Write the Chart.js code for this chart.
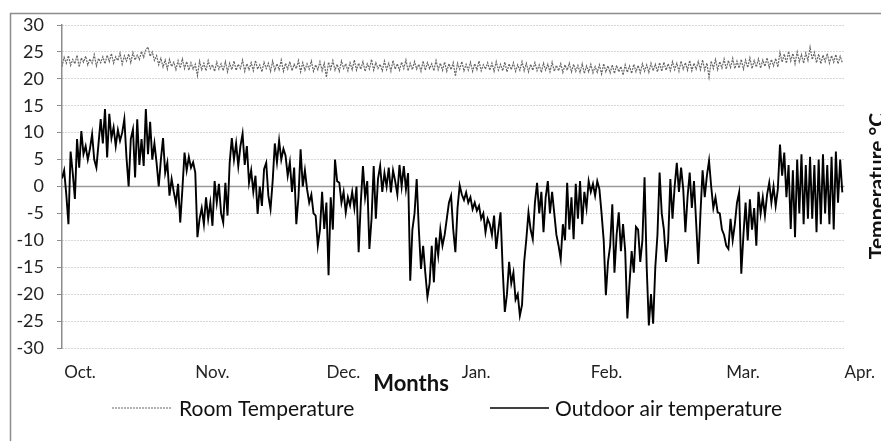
<!DOCTYPE html>
<html>
<head>
<meta charset="utf-8">
<script src="https://cdn.jsdelivr.net/npm/chart.js@4.4.0/dist/chart.umd.min.js"></script>
<style>
  html, body { margin: 0; padding: 0; background: #fff; }
</style>
</head>
<body>
<canvas id="lineChart" width="881" height="441"></canvas>

<script>
  var monthLabels = ['Oct.', 'Nov.', 'Dec.', 'Jan.', 'Feb.', 'Mar.', 'Apr.'];
  // days since 1 Oct where each month label starts
  var monthTickDays = [0.5, 31, 61.5, 93, 123, 154.5, 182];
  var yTickValues = [-30, -25, -20, -15, -10, -5, 0, 5, 10, 15, 20, 25, 30];

  // room temperature, two readings per day from 1 Oct
  var roomTemp = [
    22.3, 24.0, 22.9, 24.3, 22.5, 23.6, 22.8, 24.4, 22.2, 23.9, 23.1, 24.2, 22.6, 23.7, 22.9, 24.5, 22.4, 23.8, 23.0, 24.1,
    22.8, 24.4, 23.2, 24.7, 22.9, 24.1, 23.4, 24.8, 22.7, 24.3, 23.3, 24.6, 23.0, 24.9, 23.5, 24.4, 23.6, 25.1, 24.0, 25.4,
    25.9, 24.2, 25.0, 23.4, 24.3, 22.6, 23.8, 22.2, 23.5, 21.8, 23.6, 22.3, 23.1, 21.7, 23.4, 22.0, 23.7, 21.9, 23.2, 21.6,
    23.0, 21.8, 22.7, 20.6, 23.3, 21.7, 22.9, 21.5, 23.4, 21.9, 22.6, 21.4, 23.1, 21.8, 22.8, 21.5, 23.2, 21.3, 22.9, 21.7,
    23.3, 21.6, 22.7, 21.9, 23.5, 21.4, 22.8, 21.7, 23.0, 21.5, 23.4, 21.8, 22.6, 21.3, 23.1, 21.9, 22.9, 21.4, 23.3, 21.6,
    22.8, 21.7, 23.5, 21.4, 22.9, 21.8, 23.2, 21.5, 22.7, 21.9, 23.4, 21.3, 23.0, 21.6, 22.8, 21.8, 23.3, 21.4, 22.6, 21.7,
    23.2, 21.5, 22.9, 20.3, 23.1, 21.8, 23.4, 21.6, 22.7, 21.4, 23.3, 21.9, 22.8, 21.5, 23.0, 21.7, 23.5, 21.6, 22.9, 21.8,
    23.2, 21.4, 22.8, 21.8, 23.6, 21.6, 23.0, 21.9, 22.7, 21.5, 23.3, 21.7, 22.9, 21.4, 23.4, 21.8, 22.8, 21.6, 23.1, 21.9,
    23.5, 21.5, 22.9, 21.7, 23.2, 21.8, 22.7, 21.4, 23.3, 21.6, 23.0, 21.9, 22.8, 21.5, 23.4, 21.7, 22.9, 21.6, 23.1, 21.4,
    22.8, 21.7, 23.0, 20.5, 22.9, 21.8, 23.2, 21.5, 22.7, 21.6, 23.1, 21.4, 22.8, 21.7, 23.3, 21.5, 22.6, 21.8, 23.0, 21.6,
    22.9, 21.4, 23.2, 21.6, 22.7, 21.5, 23.1, 21.3, 22.8, 21.7, 23.0, 21.4, 22.6, 21.6, 23.2, 21.5, 22.9, 21.3, 22.7, 21.6,
    23.0, 21.5, 22.6, 21.2, 22.9, 21.6, 22.7, 21.3, 23.1, 21.4, 22.5, 21.5, 22.8, 21.2, 22.6, 21.6, 22.9, 21.3, 22.7, 21.4,
    22.5, 21.2, 22.8, 21.0, 22.4, 21.3, 22.7, 21.1, 22.3, 21.2, 22.6, 20.9, 22.8, 21.3, 22.4, 21.1, 22.6, 21.0, 22.5, 21.3,
    22.3, 20.7, 22.6, 21.2, 22.4, 21.0, 22.7, 21.3, 22.5, 21.1, 22.8, 21.4, 22.6, 21.2, 22.9, 21.5, 22.7, 21.3, 23.0, 21.4,
    23.1, 21.6, 22.8, 21.5, 23.2, 21.7, 22.9, 21.4, 23.3, 21.8, 23.0, 21.6, 23.4, 21.5, 22.9, 21.8, 23.2, 21.7, 23.5, 21.6,
    22.9, 20.3, 23.3, 21.9, 23.6, 21.7, 23.2, 22.0, 23.7, 21.8, 23.4, 22.1, 23.8, 21.9, 23.3, 22.0, 23.6, 21.8, 23.5, 22.1,
    23.9, 21.9, 23.4, 22.2, 23.7, 22.0, 23.5, 22.3, 23.9, 22.1, 23.6, 22.4, 23.8, 22.2, 24.9, 23.1, 24.6, 22.9, 25.1, 23.3,
    24.7, 22.8, 25.0, 23.2, 24.5, 22.9, 24.8, 23.4, 25.9, 23.6, 24.9, 23.0, 24.6, 22.8, 24.4, 23.2, 24.7, 22.9, 24.3, 23.1,
    24.5, 22.8, 24.2, 23.0
  ];

  // outdoor air temperature, two readings per day from 1 Oct
  var outdoorTemp = [
    1.5, 3, -1.5, -7, 6.5, 2.5, -2.3, 8.8, 3.5, 10.3,
    6, 7.5, 5, 7, 9.7, 5, 3.5, 8, 12.5, 8,
    14.4, 5.4, 13.5, 9, 11, 7.5, 10.5, 8.5, 10, 12.5,
    5.4, 0, 8.8, 10.6, 1.7, 12.5, 4, 8.8, 3.8, 14.4,
    6, 12, 5, 8, 4.4, 0, 5, 9, 2.5, 4.4,
    -1.7, 1.4, -1, -3.1, 0.5, -6.7, -0.5, 6.3, 3, 5.5,
    3.5, 4.5, 2.6, -9.4, -6, -4, -7, -2, -6, -3,
    -7.3, 1, -3, 0.5, -5, -6.7, 0.7, -5.4, 4.4, 9,
    5, 8, 3.8, 7.5, 9.8, 4, 7.5, 0.7, 3, -1,
    2, -5.1, 0, -3.6, 3.2, 4.4, -1.7, -4.2, 1, 8,
    4.5, 8.5, 5, 7, 5.7, 2, 4.5, -1, 3.5, -7,
    -2, 6.9, 0, 3, -0.5, -3, -1.5, -5, -5.4, -11,
    -8, -1, -7.9, -3, -16.5, -2, -8, 5, 1, 0.7,
    -3, -1, -4.8, -2, -3.5, -1, -4, 0, -12.2, -3,
    3.8, -2, 1, -11.6, -6, 3.8, -6, 1.4, 3.8, -1,
    2.5, 0, 3.5, -1.1, 3, 1, -1.5, 4, 0, 3.8,
    -0.5, 2.5, -17.5, -8, -5, 1.4, -8, -15.3, -11, -16,
    -20.5, -18, -11, -17.8, -9.5, -12.8, -8, -11, -9, -6,
    -3, -1.7, -8, -12.2, -4, 0.2, -1.5, -2.5, -1.1, -3,
    -2, -4.2, -3, -4.5, -3.6, -6, -5, -8.5, -6, -7,
    -9, -5.4, -11.6, -8, -4.8, -15.3, -23.3, -20, -14, -18,
    -16, -21, -20, -24, -22, -14, -9.8, -4.8, -8, -9.8,
    -3, 0.7, -5, -1, -8.5, -2, 1, -5, -1, -5,
    -9, -11, -13.5, -7, -10, 0.7, -8, -2, -9.8, 0.5,
    -6, 1, -7, -1, -4, 1, -1, 0.5, -1.7, 1,
    -0.5, -5, -10, -20.2, -14, -11, -3.3, -16, -9, -4.8,
    -12, -7, -12, -24.5, -18, -12, -16, -7.5, -8, -14,
    -10, 1.7, -15, -25.8, -20, -25.5, -15, -9, 2.6, -5,
    -8, -14, -10, 1.4, -6, 0, 4.4, -1, 3.5, -0.5,
    -8.5, -2, 2.6, -4, 1, -6.7, -14.4, -5, 3, -2,
    2, 4.8, 0, -4, -2, -4.8, -5, -8, -9, -11,
    -11.6, -6, -10, -7, -3, -1.1, -16.2, -9, -3, -10,
    -2.4, -8, -4, -11, -1, -5, -2, -5.4, -1.5, 0.7,
    -3, 0, -3.6, -0.5, 7.8, 2, 6.3, -2, 4, -7.9,
    3, -9.4, 5, -5, 6, -7, 4, -6, 5.5, -6,
    4, -8.5, 5, -7, 6, -5, 4, -7, 5.5, -8,
    6.5, -3, 5, -1.1
  ];

  var roomPoints = roomTemp.map(function (t, i) { return { x: i / 2, y: t }; });
  var outdoorPoints = outdoorTemp.map(function (t, i) { return { x: i / 2, y: t }; });

  var fontName = 'Lato, "Open Sans", sans-serif';

  // frame, solid zero line, axis title on the right and the legend row
  var extras = {
    id: 'extras',
    beforeDraw: function (chart) {
      var c = chart.ctx;
      c.save();
      c.strokeStyle = '#8c8c8c';
      c.lineWidth = 1.5;
      c.beginPath();
      c.moveTo(10.5, 441);
      c.lineTo(10.5, 13.5);
      c.lineTo(881, 13.5);
      c.stroke();
      c.restore();
    },
    beforeDatasetsDraw: function (chart) {
      var c = chart.ctx;
      var a = chart.chartArea;
      var y0 = chart.scales.y.getPixelForValue(0);
      c.save();
      c.strokeStyle = '#9a9a9a';
      c.lineWidth = 1.5;
      c.beginPath();
      c.moveTo(a.left, y0);
      c.lineTo(a.right, y0);
      c.stroke();
      c.restore();
    },
    afterDraw: function (chart) {
      var c = chart.ctx;
      var ds = chart.data.datasets;
      c.save();
      c.fillStyle = '#111';
      c.textBaseline = 'middle';

      c.font = 'bold 22px ' + fontName;
      c.textAlign = 'center';
      c.fillText('Months', 411, 384);

      c.save();
      c.translate(877, 186);
      c.rotate(-Math.PI / 2);
      c.font = 'bold 21px ' + fontName;
      c.fillText('Temperature °C', 0, 0);
      c.restore();

      // legend
      c.font = '21px ' + fontName;
      c.textAlign = 'left';
      var items = [
        { ds: ds[0], x1: 112, x2: 172, tx: 179 },
        { ds: ds[1], x1: 490, x2: 549, tx: 555 }
      ];
      items.forEach(function (it) {
        c.save();
        c.strokeStyle = it.ds.borderColor;
        c.lineWidth = Math.min(it.ds.borderWidth, 1.5);
        c.setLineDash(it.ds.borderDash || []);
        c.beginPath();
        c.moveTo(it.x1, 408);
        c.lineTo(it.x2, 408);
        c.stroke();
        c.restore();
        c.fillText(it.ds.label, it.tx, 409);
      });
      c.restore();
    }
  };

  var ctxL = document.getElementById('lineChart').getContext('2d');
  var myLineChart = new Chart(ctxL, {
    type: 'line',
    data: {
      datasets: [{
          label: 'Room Temperature',
          data: roomPoints,
          borderColor: '#666666',
          borderWidth: 1.2,
          borderDash: [2, 1],
          pointRadius: 0,
          tension: 0
        }, {
          label: 'Outdoor air temperature',
          data: outdoorPoints,
          borderColor: '#000000',
          borderWidth: 1.9,
          pointRadius: 0,
          tension: 0
        }
      ]
    },
    options: {
      responsive: false,
      animation: false,
      devicePixelRatio: 1,
      layout: { padding: { left: 0, right: 33, top: 25, bottom: 53 } },
      plugins: {
        legend: { display: false },
        tooltip: { enabled: false }
      },
      scales: {
        x: {
          type: 'linear',
          min: 0,
          max: 182,
          grid: { display: false },
          border: { display: false },
          afterBuildTicks: function (s) {
            s.ticks = monthTickDays.map(function (d) { return { value: d }; });
          },
          ticks: {
            autoSkip: false,
            maxRotation: 0,
            align: 'start',
            padding: 6,
            color: '#222',
            font: { family: fontName, size: 17 },
            callback: function (v, i) { return monthLabels[i]; }
          },
          afterFit: function (s) { s.height = 40; }
        },
        y: {
          min: -30,
          max: 30,
          afterBuildTicks: function (s) {
            s.ticks = yTickValues.map(function (v) { return { value: v }; });
          },
          grid: {
            color: function (c) { return c.tick && c.tick.value === 0 ? 'rgba(0,0,0,0)' : '#b0b0b0'; },
            lineWidth: 1,
            drawTicks: true,
            tickLength: 5,
            tickColor: '#8c8c8c'
          },
          border: { display: true, color: '#8c8c8c', width: 1.5, dash: [1, 2] },
          ticks: {
            padding: 13,
            color: '#222',
            font: { family: fontName, size: 18 }
          },
          afterFit: function (s) { s.width = 62; }
        }
      }
    },
    plugins: [extras]
  });
</script>
</body>
</html>
